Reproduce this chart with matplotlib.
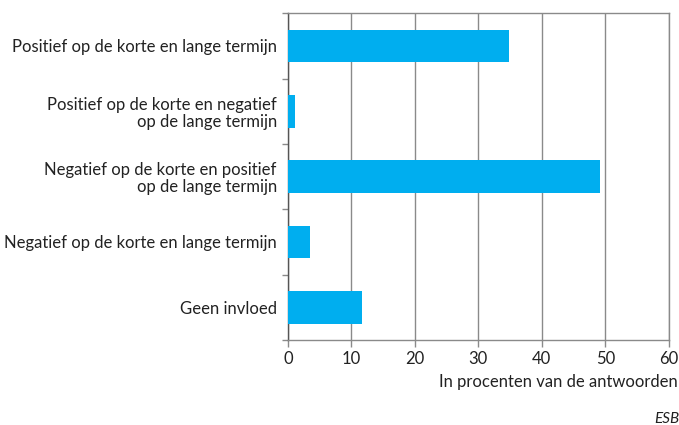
import numpy as np
import matplotlib.pyplot as plt

plt.rcParams['font.family'] = ['Lato', 'DejaVu Sans']

categories = [
    "Positief op de korte en lange termijn",
    "Positief op de korte en negatief\nop de lange termijn",
    "Negatief op de korte en positief\nop de lange termijn",
    "Negatief op de korte en lange termijn",
    "Geen invloed",
]
values = [34.9, 1.1, 49.1, 3.5, 11.6]
xticks = [0, 10, 20, 30, 40, 50, 60]

blue = "#00AEEF"
grid = "#8a8a8a"

fig = plt.figure(figsize=(6.79, 4.25), dpi=100)
ax = fig.add_axes([0.424, 0.2, 0.561, 0.769])

y = np.arange(len(categories))
ax.barh(y, values, height=0.5, color=blue, zorder=3)
ax.set_ylim(len(categories) - 0.5, -0.5)
ax.set_xlim(0, 60)

ax.set_xticks(xticks)
ax.set_xticklabels([str(t) for t in xticks], fontsize=12)
ax.xaxis.grid(True, color=grid, linewidth=1, zorder=0)

# category labels without ticks, separator ticks at boundaries
ax.set_yticks(y)
ax.set_yticklabels(categories, fontsize=12, ha='right', multialignment='right',
                   linespacing=1.1)
ax.tick_params(axis='y', length=0, pad=8)
ax.set_yticks(np.arange(-0.5, len(categories)), minor=True)
ax.tick_params(axis='y', which='minor', length=4, color=grid, width=1)
ax.tick_params(axis='x', length=5, color=grid, width=1, pad=3, colors='#222222')
ax.tick_params(axis='y', colors='#222222')

for s in ['top', 'bottom', 'right']:
    ax.spines[s].set_color(grid)
    ax.spines[s].set_linewidth(1)
ax.spines['left'].set_color('#555555')
ax.spines['left'].set_linewidth(1)

fig.text(0.998, 0.1, "In procenten van de antwoorden", ha='right', va='center',
         fontsize=12, color='#222222')
fig.text(1.0, 0.015, "ESB", ha='right', va='center', fontsize=11,
         style='italic', color='#222222')

fig.savefig("out.png", dpi=100)
